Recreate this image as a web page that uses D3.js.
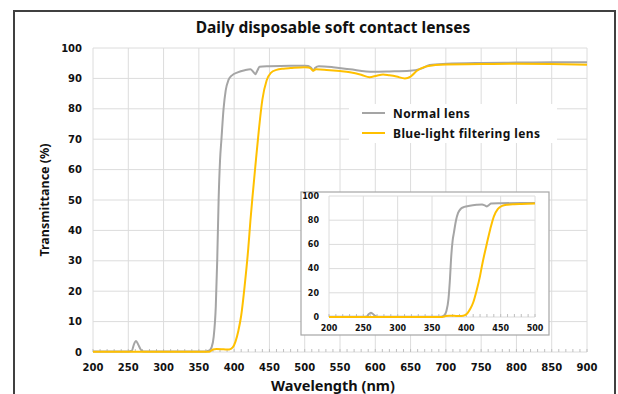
<!DOCTYPE html>
<html>
<head>
<meta charset="utf-8">
<script src="https://cdn.jsdelivr.net/npm/d3@7"></script>
<style>
  body { margin: 0; background: #fff; }
  text { font-family: "Noto Sans", sans-serif; font-weight: bold; fill: #111; }
  .tick-label { font-family: "DejaVu Sans", Verdana, sans-serif; }
</style>
</head>
<body>
<svg id="chart" width="618" height="394"></svg>
<script>
// Normal lens spectrum (wavelength nm / transmittance %)
const normalNm = [200, 250, 255, 258, 261, 264, 268, 272, 360, 365, 368, 371, 374, 376, 378, 380, 382, 385, 388, 392, 397, 405, 415, 423, 427, 430, 433, 436, 450, 480, 500, 505, 509, 512, 515, 520, 540, 564, 597, 620, 649, 665, 677, 701, 750, 800, 850, 900];
const normalT  = [0.2, 0.2, 0.4, 2.5, 3.6, 2.5, 0.7, 0.2, 0.2, 0.5, 1.5, 5, 15, 30, 50, 63, 70, 80, 86, 89.5, 91, 92, 92.7, 93, 92.2, 91.4, 92.6, 93.8, 94, 94.2, 94.2, 94.1, 93.5, 92.6, 93.5, 94, 93.7, 93.0, 92.2, 92.3, 92.5, 93.2, 94.4, 94.8, 95.1, 95.2, 95.3, 95.3];

// Blue-light filtering lens spectrum
const blueNm = [200, 365, 370, 375, 385, 393, 398, 402, 406, 410, 415, 420, 423, 426, 430, 435, 440, 446, 452, 460, 470, 480, 500, 505, 509, 512, 516, 531, 550, 564, 580, 592, 602, 611, 620, 630, 642, 650, 659, 670, 685, 701, 750, 800, 848, 900];
const blueT  = [0.1, 0.1, 0.8, 1.0, 0.9, 0.8, 1.5, 3.5, 7, 12, 22, 34, 43, 51, 61, 73, 83, 89.3, 91.8, 92.8, 93.2, 93.4, 93.7, 93.6, 93.2, 92.5, 93.0, 92.8, 92.4, 92.0, 91.2, 90.4, 90.9, 91.3, 91.0, 90.6, 90.0, 90.6, 92.5, 93.8, 94.4, 94.6, 94.7, 94.8, 94.7, 94.5];

const seriesNames = ["Normal lens", "Blue-light filtering lens"];
const seriesColors = ["#a5a5a5", "#ffc000"];

const mainXTicks = d3.range(200, 901, 50);
const mainYTicks = d3.range(0, 101, 10);
const insetXTicks = d3.range(200, 501, 50);
const insetYTicks = d3.range(0, 101, 20);

const normal = normalNm.map((nm, i) => ({ nm: nm, t: normalT[i] }));
const blue = blueNm.map((nm, i) => ({ nm: nm, t: blueT[i] }));
const series = [normal, blue];

const svg = d3.select("#chart");

// outer frame
svg.append("rect")
    .attr("x", 14).attr("y", 11)
    .attr("width", 601).attr("height", 400)
    .attr("fill", "#fff")
    .attr("stroke", "#404040")
    .attr("stroke-width", 2);

svg.append("text")
    .attr("x", 333).attr("y", 33)
    .attr("text-anchor", "middle")
    .style("font-size", "15.5px")
    .text("Daily disposable soft contact lenses");

/*
    Draws one plot (grid, minor ticks, tick labels, lines) inside the
    given box. Used for the main chart and the zoomed inset
*/
function drawPlot(g, opt) {
    const x = d3.scaleLinear().domain(opt.xDomain).range([opt.left, opt.right]);
    const y = d3.scaleLinear().domain([0, 100]).range([opt.bottom, opt.top]);

    // grid
    g.append("g").selectAll("line")
        .data(opt.xTicks)
        .join("line")
        .attr("x1", d => x(d)).attr("x2", d => x(d))
        .attr("y1", opt.top).attr("y2", opt.bottom)
        .attr("stroke", "#dcdcdc").attr("stroke-width", 1);
    g.append("g").selectAll("line")
        .data(opt.yTicks)
        .join("line")
        .attr("x1", opt.left).attr("x2", opt.right)
        .attr("y1", d => y(d)).attr("y2", d => y(d))
        .attr("stroke", "#dcdcdc").attr("stroke-width", 1);

    // minor ticks along the bottom axis, every 10 nm
    g.append("g").selectAll("line")
        .data(d3.range(opt.xDomain[0], opt.xDomain[1] + 1, 10))
        .join("line")
        .attr("x1", d => x(d)).attr("x2", d => x(d))
        .attr("y1", opt.bottom).attr("y2", opt.bottom - 3)
        .attr("stroke", "#bfbfbf").attr("stroke-width", 1);

    // tick labels
    g.append("g").selectAll("text")
        .data(opt.xTicks)
        .join("text")
        .attr("class", "tick-label")
        .attr("x", d => x(d))
        .attr("y", opt.bottom + opt.xLabelDy)
        .attr("text-anchor", "middle")
        .style("font-size", opt.fontSize + "px")
        .text(d => d);
    g.append("g").selectAll("text")
        .data(opt.yTicks)
        .join("text")
        .attr("class", "tick-label")
        .attr("x", opt.left - opt.yLabelGap)
        .attr("y", d => y(d) + opt.fontSize * 0.35)
        .attr("text-anchor", "end")
        .style("font-size", opt.fontSize + "px")
        .text(d => d);

    const line = d3.line()
        .x(d => x(d.nm))
        .y(d => y(d.t))
        .curve(d3.curveMonotoneX);

    series.forEach((s, i) => {
        g.append("path")
            .datum(s.filter(d => d.nm <= opt.xDomain[1]))
            .attr("d", line)
            .attr("fill", "none")
            .attr("stroke", seriesColors[i])
            .attr("stroke-width", opt.lineWidth)
            .attr("stroke-linejoin", "round");
    });
}

drawPlot(svg.append("g"), {
    xDomain: [200, 900], left: 93, right: 587, top: 48, bottom: 352,
    xTicks: mainXTicks, yTicks: mainYTicks,
    fontSize: 10, xLabelDy: 19, yLabelGap: 11, lineWidth: 2
});

svg.append("text")
    .attr("transform", "translate(49,200) rotate(-90)")
    .attr("text-anchor", "middle")
    .style("font-size", "12.5px")
    .text("Transmittance (%)");

svg.append("text")
    .attr("x", 333).attr("y", 391)
    .attr("text-anchor", "middle")
    .style("font-size", "14.5px")
    .text("Wavelength (nm)");

// legend
const legend = svg.append("g");
legend.append("rect")
    .attr("x", 349).attr("y", 104)
    .attr("width", 208).attr("height", 39)
    .attr("fill", "#fff");
seriesNames.forEach((name, i) => {
    const ly = 113 + i * 20;
    legend.append("line")
        .attr("x1", 362).attr("x2", 385)
        .attr("y1", ly).attr("y2", ly)
        .attr("stroke", seriesColors[i]).attr("stroke-width", 2);
    legend.append("text")
        .attr("x", 393).attr("y", ly + 4.5)
        .style("font-size", "12px")
        .style("letter-spacing", "0.4px")
        .text(name);
});

// inset
const inset = svg.append("g");
inset.append("rect")
    .attr("x", 301).attr("y", 192)
    .attr("width", 248).attr("height", 143)
    .attr("fill", "#fff")
    .attr("stroke", "#a6a6a6")
    .attr("stroke-width", 1.2);

drawPlot(inset, {
    xDomain: [200, 500], left: 329, right: 535, top: 196, bottom: 317,
    xTicks: insetXTicks, yTicks: insetYTicks,
    fontSize: 8, xLabelDy: 14, yLabelGap: 10, lineWidth: 2
});
</script>
</body>
</html>
